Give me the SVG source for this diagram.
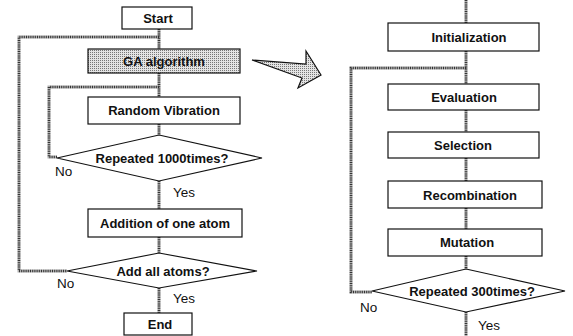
<svg xmlns="http://www.w3.org/2000/svg" width="573" height="336" viewBox="0 0 573 336">
<defs>
<pattern id="stip" width="2" height="2" patternUnits="userSpaceOnUse">
<rect width="2" height="2" fill="#e4e4e4"/>
<rect width="1" height="1" fill="#777"/>
</pattern>
<style>
.box{fill:#fff;stroke:#111;stroke-width:1.2}
.gbox{fill:url(#stip);stroke:#111;stroke-width:1.2}
.dia{fill:#fff;stroke:#111;stroke-width:1.1}
.t{font-family:"Liberation Sans",Arial,sans-serif;font-weight:bold;font-size:13px;fill:#111;text-anchor:middle}
.l{font-family:"Liberation Sans",Arial,sans-serif;font-size:13.5px;fill:#111}
.cb{fill:none;stroke:#b0b0b0;stroke-width:3}
.cd{fill:none;stroke:#333;stroke-width:2.6;stroke-dasharray:1 1.2}
</style>
</defs>
<rect width="573" height="336" fill="#fff"/>
<g id="connectors">
<g class="cb">
<path d="M159 29V49M159 73V97M159 124V135M159 181V209M159 237V253M159 288V313"/>
<path d="M159 37H19V271H67"/>
<path d="M159 87H49V157H57"/>
<path d="M466 0V23M466 51V84M466 110V132M466 158V181M466 208V229M466 256V269M466 312V336"/>
<path d="M466 68H351V292H372"/>
</g>
<g class="cd">
<path d="M159 29V49M159 73V97M159 124V135M159 181V209M159 237V253M159 288V313"/>
<path d="M159 37H19V271H67"/>
<path d="M159 87H49V157H57"/>
<path d="M466 0V23M466 51V84M466 110V132M466 158V181M466 208V229M466 256V269M466 312V336"/>
<path d="M466 68H351V292H372"/>
</g>
</g>
<g id="arrow">
<path d="M252 60L306 64L306 51L321 75L298 88L302 78Z" fill="url(#stip)" stroke="#111" stroke-width="1.2" stroke-linejoin="miter"/>
</g>
<g id="start"><rect class="box" x="122" y="7" width="70" height="22"/><text class="t" x="158" y="23">Start</text></g>
<g id="ga"><rect class="gbox" x="88" y="49" width="152" height="24"/><text class="t" x="164" y="66">GA algorithm</text></g>
<g id="rv"><rect class="box" x="88" y="97" width="152" height="27"/><text class="t" x="164" y="115">Random Vibration</text></g>
<g id="rep1000"><polygon class="dia" points="159,135 262,158 159,181 57,158"/><text class="t" x="162" y="163">Repeated 1000times?</text></g>
<g id="addone"><rect class="box" x="88" y="209" width="154" height="28"/><text class="t" x="165" y="228">Addition of one atom</text></g>
<g id="addall"><polygon class="dia" points="159,253 257,271 159,288 67,271"/><text class="t" x="163" y="276">Add all atoms?</text></g>
<g id="end"><rect class="box" x="124" y="313" width="68" height="22"/><text class="t" x="160" y="329">End</text></g>
<g id="init"><rect class="box" x="388" y="23" width="151" height="28"/><text class="t" x="469" y="42">Initialization</text></g>
<g id="eval"><rect class="box" x="388" y="84" width="151" height="26"/><text class="t" x="464" y="102">Evaluation</text></g>
<g id="sel"><rect class="box" x="388" y="132" width="151" height="26"/><text class="t" x="463" y="150">Selection</text></g>
<g id="rec"><rect class="box" x="388" y="181" width="154" height="27"/><text class="t" x="470" y="200">Recombination</text></g>
<g id="mut"><rect class="box" x="388" y="229" width="154" height="27"/><text class="t" x="467" y="247">Mutation</text></g>
<g id="rep300"><polygon class="dia" points="466,269 565,291 466,312 372,291"/><text class="t" x="472" y="296">Repeated 300times?</text></g>
<g id="labels">
<text class="l" x="55" y="176">No</text>
<text class="l" x="173" y="197">Yes</text>
<text class="l" x="57" y="288">No</text>
<text class="l" x="173" y="303">Yes</text>
<text class="l" x="360" y="312">No</text>
<text class="l" x="478" y="330">Yes</text>
</g>
</svg>
